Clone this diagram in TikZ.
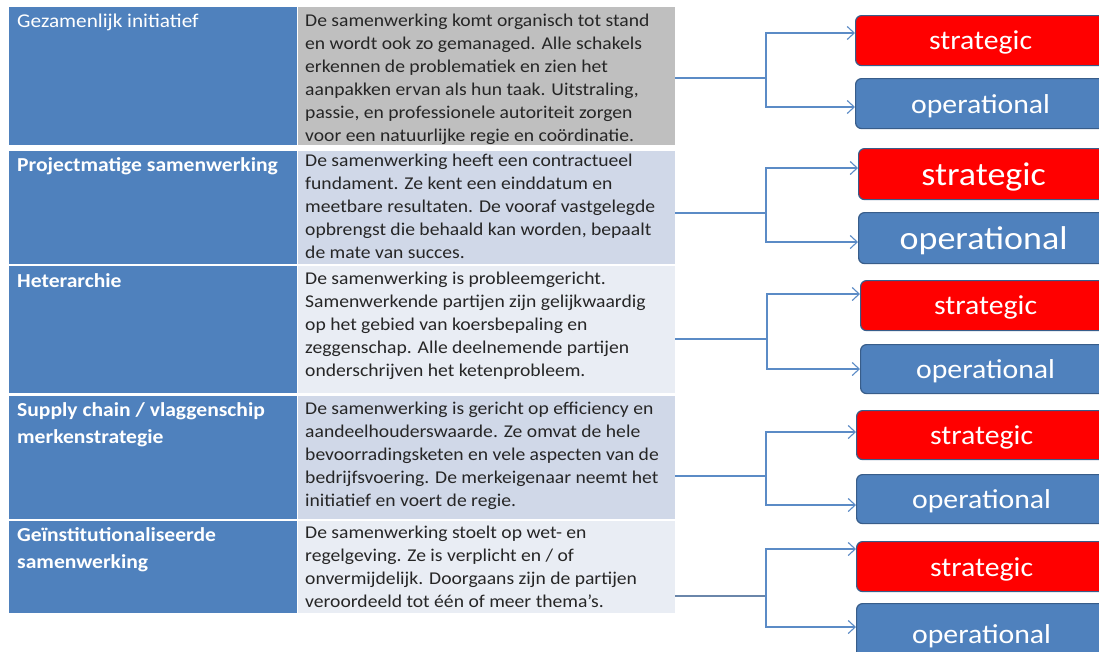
\documentclass[tikz,border=0pt]{standalone}
\usepackage{fontspec}
\setmainfont[FakeStretch=1.09]{Carlito}
\usetikzlibrary{arrows.meta}
\definecolor{hdrblue}{HTML}{4F81BD}
\definecolor{rowgray}{HTML}{BFBFBF}
\definecolor{rowdark}{HTML}{D0D8E8}
\definecolor{rowlight}{HTML}{E9EDF4}
\definecolor{txtdark}{HTML}{262626}
\definecolor{linkblue}{HTML}{5B8BC6}
\definecolor{boxborder}{HTML}{385D8A}
\definecolor{stratred}{HTML}{FF0000}
\tikzset{
  cell/.style={draw=none, inner sep=0pt, anchor=north west},
  hdrtext/.style={anchor=north west, inner sep=0pt, text=white, align=left, font=\fontsize{19.8}{27}\selectfont\bfseries},
  bodytext/.style={anchor=north west, inner sep=0pt, text=txtdark, align=left, font=\fontsize{18}{23}\selectfont},
  choice/.style={draw=boxborder, line width=1.2pt, rounded corners=6pt, text=white, anchor=north west, inner sep=0pt, minimum width=250pt, text depth=0pt},
  stratbox/.style={choice, fill=stratred},
  operbox/.style={choice, fill=hdrblue},
  link/.style={draw=linkblue, line width=1.3pt},
  linkarrow/.style={link, -{Straight Barb[length=7pt,width=13pt,line width=1.1pt]}},
}
\begin{document}
\begin{tikzpicture}[x=1pt,y=-1pt]
\useasboundingbox (0,0) rectangle (1099,651);
\fill[white] (0,0) rectangle (1099,651);

% ---- table cells ----
\node[cell, fill=hdrblue, minimum width=288pt, minimum height=138pt] (h1) at (9,7) {};
\node[cell, fill=rowgray, minimum width=377pt, minimum height=138pt] (b1) at (298,7) {};
\node[cell, fill=hdrblue, minimum width=288pt, minimum height=113pt] (h2) at (9,151) {};
\node[cell, fill=rowdark, minimum width=377pt, minimum height=113pt] (b2) at (298,151) {};
\node[cell, fill=hdrblue, minimum width=288pt, minimum height=127pt] (h3) at (9,266) {};
\node[cell, fill=rowlight, minimum width=377pt, minimum height=127pt] (b3) at (298,266) {};
\node[cell, fill=hdrblue, minimum width=288pt, minimum height=123pt] (h4) at (9,396) {};
\node[cell, fill=rowdark, minimum width=377pt, minimum height=123pt] (b4) at (298,396) {};
\node[cell, fill=hdrblue, minimum width=288pt, minimum height=92pt] (h5) at (9,521) {};
\node[cell, fill=rowlight, minimum width=377pt, minimum height=92pt] (b5) at (298,521) {};

% ---- header texts ----
\node[hdrtext, font=\fontsize{19.5}{27}\selectfont] (th1) at (17,14) {Gezamenlijk initiatief};
\node[hdrtext] (th2) at (17,157) {Projectmatige samenwerking};
\node[hdrtext] (th3) at (17,273) {Heterarchie};
\node[hdrtext] (th4) at (17,402) {Supply chain / vlaggenschip\\merkenstrategie};
\node[hdrtext] (th5) at (17,527) {Geïnstitutionaliseerde\\samenwerking};

% ---- body texts ----
\node[bodytext] (tb1) at (305,14) {De samenwerking komt organisch tot stand\\en wordt ook zo gemanaged. Alle schakels\\erkennen de problematiek en zien het\\aanpakken ervan als hun taak. Uitstraling,\\passie, en professionele autoriteit zorgen\\voor een natuurlijke regie en coördinatie.};
\node[bodytext] (tb2) at (305,154) {De samenwerking heeft een contractueel\\fundament. Ze kent een einddatum en\\meetbare resultaten. De vooraf vastgelegde\\opbrengst die behaald kan worden, bepaalt\\de mate van succes.};
\node[bodytext] (tb3) at (305,272) {De samenwerking is probleemgericht.\\Samenwerkende partijen zijn gelijkwaardig\\op het gebied van koersbepaling en\\zeggenschap. Alle deelnemende partijen\\onderschrijven het ketenprobleem.};
\node[bodytext] (tb4) at (305,402) {De samenwerking is gericht op efficiency en\\aandeelhouderswaarde. Ze omvat de hele\\bevoorradingsketen en vele aspecten van de\\bedrijfsvoering. De merkeigenaar neemt het\\initiatief en voert de regie.};
\node[bodytext] (tb5) at (305,526) {De samenwerking stoelt op wet- en\\regelgeving. Ze is verplicht en / of\\onvermijdelijk. Doorgaans zijn de partijen\\veroordeeld tot één of meer thema’s.};

% ---- strategic / operational boxes ----
\node[stratbox, minimum height=50pt, font=\fontsize{27.3}{30}\selectfont] (s1) at (855,15) {strategic};
\node[operbox, minimum height=50pt, font=\fontsize{27.3}{30}\selectfont] (o1) at (855,78) {operational};
\node[stratbox, minimum height=51pt, font=\fontsize{33}{36}\selectfont] (s2) at (858,148) {strategic};
\node[operbox, minimum height=51pt, font=\fontsize{33}{36}\selectfont] (o2) at (858,212) {operational};
\node[stratbox, minimum height=50pt, font=\fontsize{27.3}{30}\selectfont] (s3) at (860,280) {strategic};
\node[operbox, minimum height=49pt, font=\fontsize{27.3}{30}\selectfont] (o3) at (860,344) {operational};
\node[stratbox, minimum height=49pt, font=\fontsize{27.3}{30}\selectfont] (s4) at (856,410) {strategic};
\node[operbox, minimum height=49pt, font=\fontsize{27.3}{30}\selectfont] (o4) at (856,474) {operational};
\node[stratbox, minimum height=50pt, font=\fontsize{27.3}{30}\selectfont] (s5) at (856,541) {strategic};
\node[operbox, minimum height=60pt, font=\fontsize{27.3}{30}\selectfont] (o5) at (856,603) {operational};

% ---- connectors ----
\coordinate (j1) at (766,78);
\coordinate (j2) at (766,213);
\coordinate (j3) at (767,339);
\coordinate (j4) at (766,476);
\coordinate (j5) at (766,596);

\draw[link] (b1.east |- j1) -- (j1);
\draw[linkarrow] (j1) |- (s1.west |- 0,33);
\draw[linkarrow] (j1) |- (o1.west |- 0,107);

\draw[link] (b2.east |- j2) -- (j2);
\draw[linkarrow] (j2) |- (s2.west |- 0,168);
\draw[linkarrow] (j2) |- (o2.west |- 0,242);

\draw[link] (b3.east |- j3) -- (j3);
\draw[linkarrow] (j3) |- (s3.west |- 0,294);
\draw[linkarrow] (j3) |- (o3.west |- 0,369);

\draw[link] (b4.east |- j4) -- (j4);
\draw[linkarrow] (j4) |- (s4.west |- 0,432);
\draw[linkarrow] (j4) |- (o4.west |- 0,505);

\draw[link, line width=2.5pt, draw=linkblue!60!gray] (b5.east |- j5) -- (j5);
\draw[linkarrow] (j5) |- (s5.west |- 0,549);
\draw[linkarrow] (j5) |- (o5.west |- 0,627);
\end{tikzpicture}
\end{document}
